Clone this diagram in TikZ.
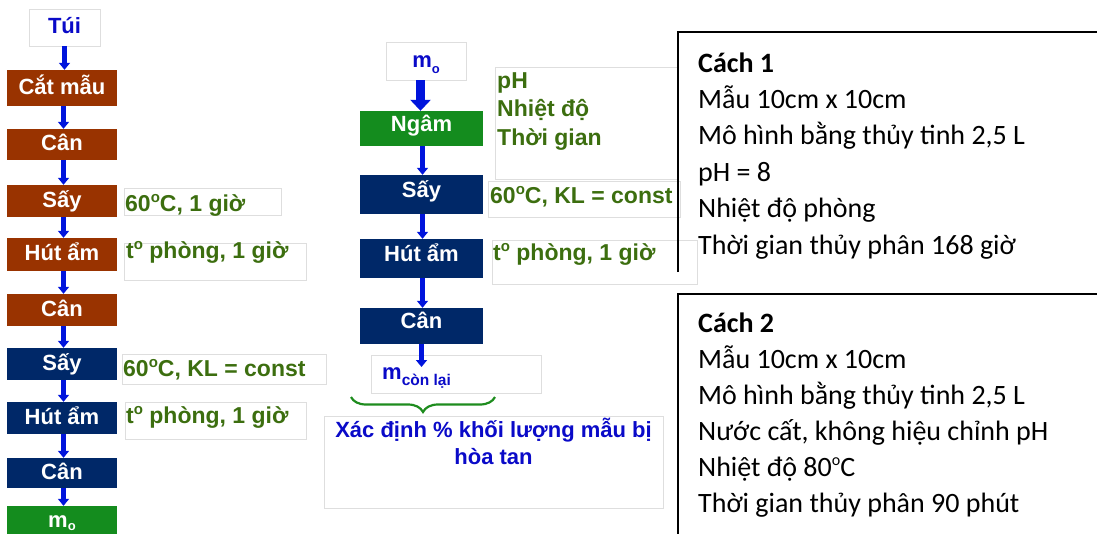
\documentclass[tikz,border=0pt]{standalone}
\usepackage{fontspec}
\setmainfont{Liberation Sans}
\newfontfamily\notefont{Carlito}
\usetikzlibrary{arrows.meta,decorations.pathreplacing}

\definecolor{stepbrown}{RGB}{153,51,0}
\definecolor{stepnavy}{RGB}{0,40,104}
\definecolor{stepgreen}{RGB}{20,140,30}
\definecolor{labelgreen}{RGB}{60,110,15}
\definecolor{inkblue}{RGB}{10,10,200}
\definecolor{arrowblue}{RGB}{0,20,220}
\definecolor{bracegreen}{RGB}{30,140,30}
\definecolor{faint}{RGB}{222,222,222}

% raised small "o" used as a degree mark, and a lowered "o" subscript
\newcommand\supo[2]{\raisebox{#1}{\fontsize{#2}{#2}\selectfont o}}
\newcommand\subo[1][-6pt]{\raisebox{#1}{\fontsize{13}{13}\selectfont o}}

\tikzset{
  stepbox/.style={inner sep=0pt, text=white, font=\bfseries\fontsize{22}{22}\selectfont,
    text height=12pt, text depth=0pt},
  leftbox/.style={stepbox, minimum width=110pt},
  midbox/.style={stepbox, minimum width=123pt, text height=5pt},
  brownstep/.style={leftbox, fill=stepbrown},
  navystep/.style={leftbox, fill=stepnavy},
  greenstep/.style={leftbox, fill=stepgreen},
  midnavy/.style={midbox, fill=stepnavy},
  midgreen/.style={midbox, fill=stepgreen},
  whitebox/.style={stepbox, draw=faint, fill=white, text=inkblue},
  frame/.style={draw=faint, line width=0.8pt},
  flow/.style={draw=arrowblue, line width=5pt, -{Triangle[width=11pt,length=7pt]}},
  bigflow/.style={draw=arrowblue, line width=9pt, -{Triangle[width=20pt,length=11pt]}},
  lbl/.style={inner sep=0pt, anchor=base west, text=labelgreen,
    font=\bfseries\fontsize{23}{23}\selectfont},
  bluetxt/.style={inner sep=0pt, anchor=base, text=inkblue,
    font=\bfseries\fontsize{22}{22}\selectfont},
  note/.style={inner sep=0pt, anchor=base west, font=\notefont\fontsize{28}{28}\selectfont},
  notehead/.style={note, font=\notefont\bfseries\fontsize{28}{28}\selectfont},
  cachline/.style={draw=black, line width=2pt},
  bracepath/.style={draw=bracegreen, line width=2.2pt, decorate,
    decoration={brace, amplitude=15pt}},
}

\begin{document}
\begin{tikzpicture}[x=1pt, y=-1pt]
\useasboundingbox (0,0) rectangle (1097,533);

% ---------- left column: sample preparation ----------
\node[whitebox, minimum width=71pt, minimum height=37pt] (tui) at (64.5,27.5) {Túi};
\node[brownstep, minimum height=36pt] (catmau) at (62,88) {Cắt mẫu};
\node[brownstep, minimum height=31pt] (can1) at (62,144.5) {Cân};
\node[brownstep, minimum height=32pt] (say1) at (62,201) {Sấy};
\node[brownstep, minimum height=33pt] (hutam1) at (62,254.5) {Hút ẩm};
\node[brownstep, minimum height=32pt] (can2) at (62,310) {Cân};
\node[navystep, minimum height=32pt] (say2) at (62,364) {Sấy};
\node[navystep, minimum height=32pt] (hutam2) at (62,418) {Hút ẩm};
\node[navystep, minimum height=30pt] (can3) at (62,473) {Cân};
\node[greenstep, minimum height=38pt, text height=4pt] (mo1) at (62,525) {m\subo[-3pt]};

\draw[flow] (tui.south) -- (tui.south |- catmau.north);
\foreach \a/\b in {catmau/can1, can1/say1, say1/hutam1, hutam1/can2,
                   can2/say2, say2/hutam2, hutam2/can3, can3/mo1}
  \draw[flow] ([xshift=1.5pt]\a.south) -- ([xshift=1.5pt]\b.north);

% conditions of the left column
\draw[frame] (124,188) rectangle (281,215);
\node[lbl] (l1) at (125,211) {60\supo{9pt}{15}C, 1 giờ};
\draw[frame] (124,243) rectangle (306,280);
\node[lbl] (l2) at (126,258) {t\supo{9pt}{15} phòng, 1 giờ};
\draw[frame] (122,354) rectangle (326,384);
\node[lbl] (l3) at (123,376) {60\supo{9pt}{15}C, KL = const};
\draw[frame] (125,402) rectangle (306,439);
\node[lbl] (l4) at (126,423) {t\supo{9pt}{15} phòng, 1 giờ};

% ---------- middle column: soaking test ----------
\node[whitebox, minimum width=80pt, minimum height=38pt] (mo2) at (426,61) {m\subo};
\node[midgreen, minimum height=35pt] (ngam) at (421.5,128.5) {Ngâm};
\node[midnavy, minimum height=39pt] (say3) at (421.5,194.5) {Sấy};
\node[midnavy, minimum height=39pt] (hutam3) at (421.5,258.5) {Hút ẩm};
\node[midnavy, minimum height=36pt] (can4) at (421.5,326) {Cân};

\node[draw=faint, fill=white, line width=0.8pt, inner sep=0pt,
      minimum width=170pt, minimum height=38pt] (mcl) at (456,374) {};
\node[inner sep=0pt, anchor=base west, text=inkblue,
      font=\bfseries\fontsize{22}{22}\selectfont] (mcltext) at (382,379)
  {m\raisebox{-6pt}{\fontsize{15.5}{15.5}\selectfont còn lại}};
\coordinate (mclend) at (421.5,367);

\draw[bigflow] ([xshift=-5.5pt]mo2.south) -- ([xshift=-1pt]ngam.north);
\draw[flow] ([xshift=1pt]ngam.south) -- ([xshift=1pt]say3.north);
\draw[flow] ([xshift=1pt]say3.south) -- ([xshift=1pt]hutam3.north);
\draw[flow] ([xshift=1pt]hutam3.south) -- ([xshift=1pt]can4.north);
\draw[flow] (can4.south) -- (mclend);

% conditions of the middle column
\draw[frame] (495,67) rectangle (678,179);
\node[lbl] (p1) at (497,88) {pH};
\node[lbl] (p2) at (497,116) {Nhiệt độ};
\node[lbl] (p3) at (497,145) {Thời gian};
\draw[frame] (488,181) rectangle (680,217);
\node[lbl] (m1) at (490,203) {60\supo{9pt}{15}C, KL = const};
\draw[frame] (492,240) rectangle (697,284);
\node[lbl] (m2) at (493,260) {t\supo{9pt}{15} phòng, 1 giờ};

% brace and result
\draw[bracepath] (495,397) -- (351,397);
\draw[frame] (324,416) rectangle (663,508);
\node[bluetxt] (xac1) at (493.5,437) {Xác định \% khối lượng mẫu bị};
\node[bluetxt] (xac2) at (493.5,464) {hòa tan};

% ---------- right: the two test methods ----------
\draw[cachline] (678,272) -- (678,32) -- (1100,32);
\node[notehead] (c1h) at (698,72) {Cách 1};
\node[note] (c1a) at (698,108.4) {Mẫu 10cm x 10cm};
\node[note] (c1b) at (698,144.8) {Mô hình bằng thủy tinh 2,5 L};
\node[note] (c1c) at (698,181.2) {pH = 8};
\node[note] (c1d) at (698,217.6) {Nhiệt độ phòng};
\node[note] (c1e) at (698,254) {Thời gian thủy phân 168 giờ};

\draw[cachline] (678,540) -- (678,294) -- (1100,294);
\node[notehead] (c2h) at (698,332) {Cách 2};
\node[note] (c2a) at (698,368) {Mẫu 10cm x 10cm};
\node[note] (c2b) at (698,404) {Mô hình bằng thủy tinh 2,5 L};
\node[note] (c2c) at (698,440) {Nước cất, không hiệu chỉnh pH};
\node[note] (c2d) at (698,476) {Nhiệt độ 80\supo{10.5pt}{16}C};
\node[note] (c2e) at (698,512) {Thời gian thủy phân 90 phút};
\end{tikzpicture}
\end{document}
